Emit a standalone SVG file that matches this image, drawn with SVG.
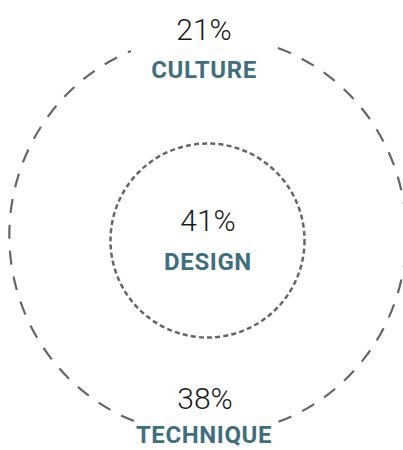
<svg xmlns="http://www.w3.org/2000/svg" width="403" height="450" viewBox="0 0 403 450">
  <style>
    .pct { font-family: Roboto, "Liberation Sans", sans-serif; font-weight: 300; font-size: 30px; fill: #1a1a1a; text-anchor: middle; }
    .lbl { font-family: Roboto, "Liberation Sans", sans-serif; font-weight: 700; font-size: 24px; letter-spacing: 0.6px; fill: #3f6f7f; text-anchor: middle; }
    .outer { fill: none; stroke: #666666; stroke-width: 2.2; stroke-dasharray: 14 12; }
    .inner { fill: none; stroke: #666666; stroke-width: 2.5; stroke-dasharray: 5 3.2; }
  </style>
  <rect width="403" height="450" fill="#ffffff"/>
  <g id="connectors">
    <path class="outer" d="M 278 48 A 195 199 0 0 1 278 422"/>
    <path class="outer" d="M 134 421 A 195 199 0 0 1 131 51"/>
  </g>
  <g id="inner-circle">
    <circle class="inner" cx="207.5" cy="240.5" r="97"/>
  </g>
  <g id="culture">
    <text class="pct" x="204" y="40">21%</text>
    <text class="lbl" x="204" y="78">CULTURE</text>
  </g>
  <g id="design">
    <text class="pct" x="208" y="231">41%</text>
    <text class="lbl" x="208" y="270">DESIGN</text>
  </g>
  <g id="technique">
    <text class="pct" x="205" y="409">38%</text>
    <text class="lbl" x="204" y="443">TECHNIQUE</text>
  </g>
</svg>
